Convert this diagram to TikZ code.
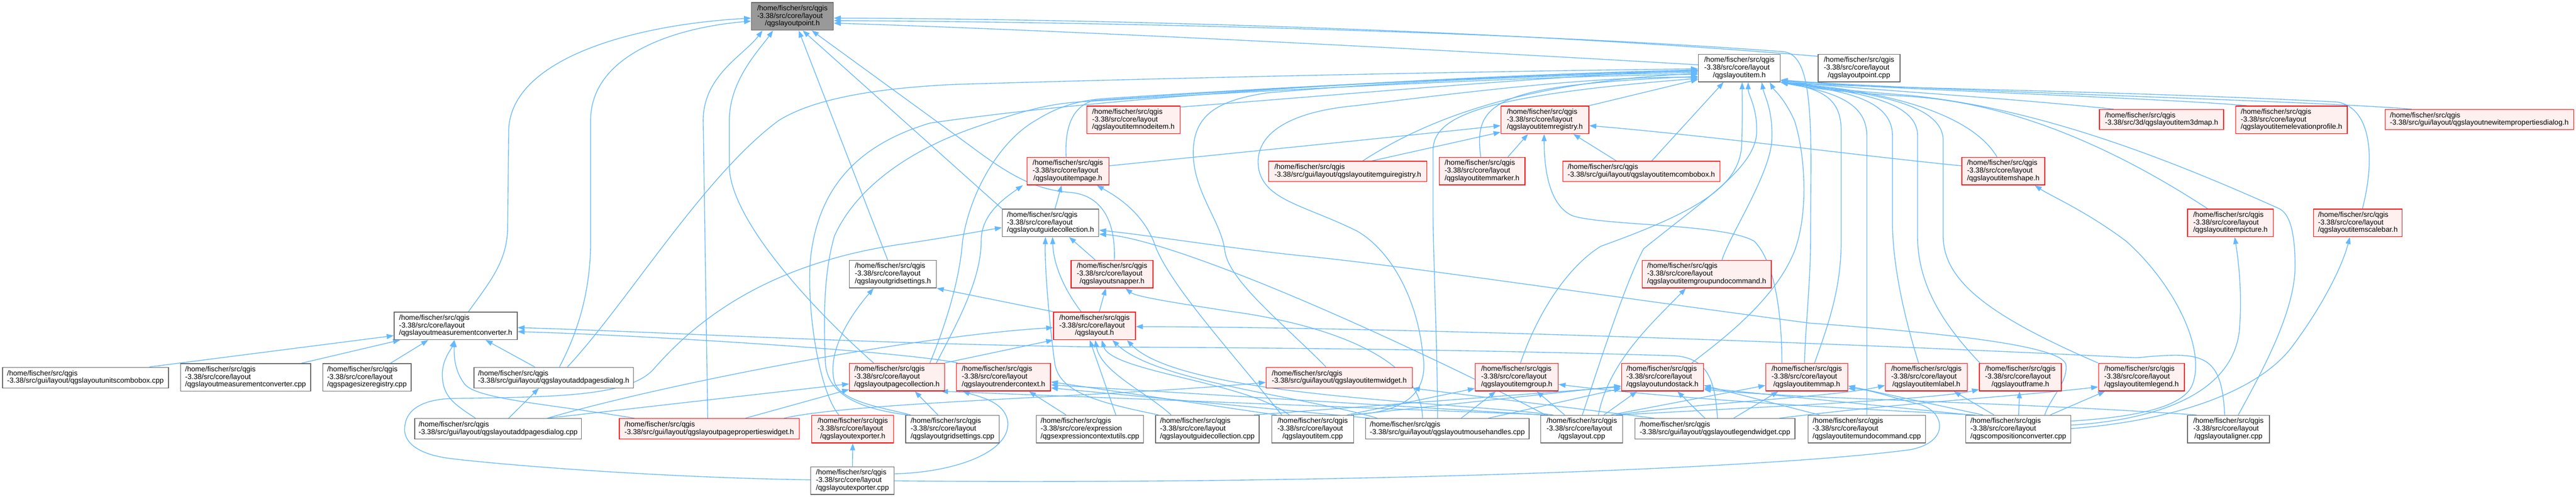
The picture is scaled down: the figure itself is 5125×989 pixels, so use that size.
\documentclass[tikz,border=0pt]{standalone}
\usepackage{fontspec}
\newfontfamily\lsans{Liberation Sans}
\usetikzlibrary{arrows.meta}
\definecolor{edgec}{HTML}{63B8FF}
\definecolor{redf}{HTML}{FFF0F0}
\definecolor{grayb}{HTML}{666666}
\definecolor{focusf}{HTML}{999999}
\pgfdeclarelayer{bg}\pgfdeclarelayer{paper}\pgfsetlayers{paper,bg,main}
\newcommand\nfont{\lsans\fontsize{14.4}{15.2}\selectfont\setbox\strutbox\hbox{\vrule height 11pt depth 4.2pt width 0pt}}
\newcommand\lblA[3]{\begin{tabular}{@{}l@{}}#1\\#2\\\multicolumn{1}{@{}c@{}}{#3}\end{tabular}}
\newcommand\lblB[2]{\begin{tabular}{@{}l@{}}#1\\\multicolumn{1}{@{}c@{}}{#2}\end{tabular}}
\newcommand\pHome{/home/fischer/src/qgis}
\newcommand\pCore{-3.38/src/core/layout}
\newcommand\pGui{-3.38/src/gui/layout/}
\newcommand\mknode[7]{\node[#1,minimum width=#5pt,minimum height=#6pt] (#2) at (#3,#4) {#7};}
\tikzset{
 nb/.style={draw=grayb, fill=white, line width=1.4pt, inner sep=0pt, font=\nfont},
 nr/.style={draw=red, fill=redf, line width=1.4pt, inner sep=0pt, font=\nfont},
 nf/.style={draw=grayb, fill=focusf, line width=1.4pt, inner sep=0pt, font=\nfont},
 dep/.style={draw=edgec, line width=1.4pt, -{Triangle[length=14pt,width=10pt]}},
}
\begin{document}
\begin{tikzpicture}[x=1pt,y=-1pt]
\useasboundingbox (0,0) rectangle (5125,989);
\begin{pgfonlayer}{paper}
\fill[white] (0,0) rectangle (5125,989);
\end{pgfonlayer}
% ---------------- nodes
\mknode{nf}{F}{1576.5}{32.5}{163}{55}{\lblA{\pHome}{\pCore}{/qgslayoutpoint.h}}
\mknode{nb}{itemh}{3460.5}{135.5}{163}{55}{\lblA{\pHome}{\pCore}{/qgslayoutitem.h}}
\mknode{nb}{pointcpp}{3698.5}{135.5}{163}{55}{\lblA{\pHome}{\pCore}{/qgslayoutpoint.cpp}}
\mknode{nr}{nodeitem}{2255}{238.5}{186}{55}{\lblA{\pHome}{\pCore}{/qgslayoutitemnodeitem.h}}
\mknode{nr}{itemregistry}{3073.5}{238.5}{175}{55}{\lblA{\pHome}{\pCore}{/qgslayoutitemregistry.h}}
\mknode{nr}{map3d}{4300.5}{238}{247}{40}{\lblB{\pHome}{-3.38/src/3d/qgslayoutitem3dmap.h}}
\mknode{nr}{elev}{4559}{238.5}{222}{55}{\lblA{\pHome}{\pCore}{/qgslayoutitemelevationprofile.h}}
\mknode{nr}{newitemprops}{4932.5}{238}{375}{40}{\lblB{\pHome}{\pGui qgslayoutnewitempropertiesdialog.h}}
\mknode{nr}{itempage}{2124.5}{340.5}{163}{55}{\lblA{\pHome}{\pCore}{/qgslayoutitempage.h}}
\mknode{nr}{guiregistry}{2681.5}{341}{315}{40}{\lblB{\pHome}{\pGui qgslayoutitemguiregistry.h}}
\mknode{nr}{marker}{2948.5}{340.5}{171}{55}{\lblA{\pHome}{\pCore}{/qgslayoutitemmarker.h}}
\mknode{nr}{combobox}{3265.5}{341}{313}{40}{\lblB{\pHome}{\pGui qgslayoutitemcombobox.h}}
\mknode{nr}{shape}{3985.5}{340.5}{165}{55}{\lblA{\pHome}{\pCore}{/qgslayoutitemshape.h}}
\mknode{nb}{guidecollh}{2090}{443.5}{192}{55}{\lblA{\pHome}{\pCore}{/qgslayoutguidecollection.h}}
\mknode{nr}{picture}{4437.5}{443.5}{171}{55}{\lblA{\pHome}{\pCore}{/qgslayoutitempicture.h}}
\mknode{nr}{scalebar}{4691}{443.5}{176}{55}{\lblA{\pHome}{\pCore}{/qgslayoutitemscalebar.h}}
\mknode{nb}{gridsettingsh}{1776.5}{545.5}{173}{55}{\lblA{\pHome}{\pCore}{/qgslayoutgridsettings.h}}
\mknode{nr}{snapper}{2212.5}{545.5}{163}{55}{\lblA{\pHome}{\pCore}{/qgslayoutsnapper.h}}
\mknode{nr}{groupundocmd}{3395.5}{545.5}{257}{55}{\lblA{\pHome}{\pCore}{/qgslayoutitemgroupundocommand.h}}
\mknode{nb}{measconvh}{906.5}{648.5}{245}{55}{\lblA{\pHome}{\pCore}{/qgslayoutmeasurementconverter.h}}
\mknode{nr}{layouth}{2177.5}{648.5}{163}{55}{\lblA{\pHome}{\pCore}{/qgslayout.h}}
\mknode{nb}{unitscombo}{170}{751.5}{330}{41}{\lblB{\pHome}{\pGui qgslayoutunitscombobox.cpp}}
\mknode{nb}{measconvcpp}{488.5}{751}{259}{55}{\lblA{\pHome}{\pCore}{/qgslayoutmeasurementconverter.cpp}}
\mknode{nb}{pagesizecpp}{730}{751}{176}{55}{\lblA{\pHome}{\pCore}{/qgspagesizeregistry.cpp}}
\mknode{nb}{addpagesh}{1101.5}{751.5}{317}{41}{\lblB{\pHome}{\pGui qgslayoutaddpagesdialog.h}}
\mknode{nr}{pagecollection}{1784.5}{750.5}{189}{55}{\lblA{\pHome}{\pCore}{/qgslayoutpagecollection.h}}
\mknode{nr}{rendercontext}{1996.5}{750.5}{187}{55}{\lblA{\pHome}{\pCore}{/qgslayoutrendercontext.h}}
\mknode{nr}{itemwidget}{2664.5}{751.5}{291}{41}{\lblB{\pHome}{\pGui qgslayoutitemwidget.h}}
\mknode{nr}{itemgroup}{3017.5}{750.5}{165}{55}{\lblA{\pHome}{\pCore}{/qgslayoutitemgroup.h}}
\mknode{nr}{undostack}{3307.5}{750.5}{163}{55}{\lblA{\pHome}{\pCore}{/qgslayoutundostack.h}}
\mknode{nr}{itemmap}{3594.5}{750.5}{163}{55}{\lblA{\pHome}{\pCore}{/qgslayoutitemmap.h}}
\mknode{nr}{itemlabel}{3832.5}{750.5}{163}{55}{\lblA{\pHome}{\pCore}{/qgslayoutitemlabel.h}}
\mknode{nr}{frame}{4019.5}{750.5}{163}{55}{\lblA{\pHome}{\pCore}{/qgslayoutframe.h}}
\mknode{nr}{legend}{4260.5}{750.5}{171}{55}{\lblA{\pHome}{\pCore}{/qgslayoutitemlegend.h}}
\mknode{nb}{addpagescpp}{991}{853.5}{332}{41}{\lblB{\pHome}{\pGui qgslayoutaddpagesdialog.cpp}}
\mknode{nr}{pageprops}{1411}{853.5}{358}{41}{\lblB{\pHome}{\pGui qgslayoutpagepropertieswidget.h}}
\mknode{nr}{exporterh}{1696.5}{854}{163}{55}{\lblA{\pHome}{\pCore}{/qgslayoutexporter.h}}
\mknode{nb}{gridsettingscpp}{1895}{854}{186}{55}{\lblA{\pHome}{\pCore}{/qgslayoutgridsettings.cpp}}
\mknode{nb}{exprctxutils}{2168.5}{854}{213}{55}{\lblA{\pHome}{-3.38/src/core/expression}{/qgsexpressioncontextutils.cpp}}
\mknode{nb}{guidecollcpp}{2402}{854}{206}{55}{\lblA{\pHome}{\pCore}{/qgslayoutguidecollection.cpp}}
\mknode{nb}{itemcpp}{2611.5}{854}{163}{55}{\lblA{\pHome}{\pCore}{/qgslayoutitem.cpp}}
\mknode{nb}{mousehandles}{2879.5}{853.5}{325}{41}{\lblB{\pHome}{\pGui qgslayoutmousehandles.cpp}}
\mknode{nb}{layoutcpp}{3147}{854}{163}{55}{\lblA{\pHome}{\pCore}{/qgslayout.cpp}}
\mknode{nb}{legendwidgetcpp}{3412}{853.5}{318}{41}{\lblB{\pHome}{\pGui qgslayoutlegendwidget.cpp}}
\mknode{nb}{undocmdcpp}{3714}{854}{234}{55}{\lblA{\pHome}{\pCore}{/qgslayoutitemundocommand.cpp}}
\mknode{nb}{compconv}{4015.5}{854}{209}{55}{\lblA{\pHome}{\pCore}{/qgscompositionconverter.cpp}}
\mknode{nb}{aligner}{4433.5}{854}{163}{55}{\lblA{\pHome}{\pCore}{/qgslayoutaligner.cpp}}
\mknode{nb}{exportercpp}{1696}{956.5}{166}{55}{\lblA{\pHome}{\pCore}{/qgslayoutexporter.cpp}}
% ---------------- edges
\begin{pgfonlayer}{bg}
% into qgslayoutpoint.h
\draw[dep] (measconvh.north -| 932,0) .. controls (975,560) and (1010,520) .. (1010,450) -- (1012,260) .. controls (1015,120) and (1250,50) .. (F.west |- 0,36);
\draw[dep] (addpagesh.north -| 1113,0) .. controls (1150,660) and (1175,580) .. (1175,480) -- (1175,240) .. controls (1175,110) and (1340,55) .. (F.west |- 0,42);
\draw[dep] (pageprops.north -| 1408,0) -- (1399,240) .. controls (1399,150) and (1480,110) .. (F.south -| 1517,0);
\draw[dep] (pagecollection.north -| 1738,0) .. controls (1600,600) and (1451,430) .. (1451,330) -- (1451,240) .. controls (1451,160) and (1510,100) .. (F.south -| 1538,0);
\draw[dep] (gridsettingsh.north -| 1766,0) -- (F.south -| 1589,0);
\draw[dep] (guidecollh.north west) -- (F.south -| 1597,0);
\draw[dep] (snapper.north -| 2217,0) .. controls (2220,430) and (2185,388) .. (2130,383) .. controls (2060,378) and (2010,350) .. (1930,290) -- (F.south -| 1615,0);
\draw[dep] (itemh.west |- 0,129) .. controls (2800,95) and (2100,60) .. (F.east |- 0,46);
\draw[dep] (pointcpp.west |- 0,112) .. controls (3000,60) and (2200,38) .. (F.east |- 0,36);
\draw[dep] (itemmap.north -| 3590,0) .. controls (3592,650) and (3602,560) .. (3602,480) -- (3603,330) .. controls (3603,170) and (3590,110) .. (3550,103) .. controls (3000,62) and (2200,44) .. (F.east |- 0,41);
% into qgslayoutmeasurementconverter.h
\draw[dep] (unitscombo.north -| 297,0) -- (measconvh.west |- 0,668);
\draw[dep] (measconvcpp.north -| 600,0) -- (measconvh.south -| 796,0);
\draw[dep] (pagesizecpp.north -| 777,0) -- (measconvh.south -| 852,0);
\draw[dep] (addpagesh.north -| 1064,0) -- (measconvh.south -| 966,0);
\draw[dep] (pageprops.north -| 1262,0) .. controls (1100,805) and (950,795) .. (925,765) .. controls (905,740) and (903,710) .. (measconvh.south -| 904,0);
\draw[dep] (addpagescpp.north -| 946,0) .. controls (905,805) and (880,790) .. (880,745) .. controls (880,715) and (898,695) .. (measconvh.south -| 904,0);
\draw[dep] (rendercontext.north -| 1905,0) .. controls (1800,700) and (1300,668) .. (measconvh.east |- 0,660);
\draw[dep] (legendwidgetcpp.north -| 3417,0) .. controls (3412,770) and (3405,712) .. (3330,708) .. controls (2800,692) and (2350,692) .. (2150,690) .. controls (1700,683) and (1300,660) .. (measconvh.east |- 0,652);
% into addpagesdialog.h / exporter.h
\draw[dep] (addpagescpp.north -| 1012,0) -- (addpagesh.south -| 1072,0);
\draw[dep] (exportercpp.north) -- (exporterh.south);
% into gridsettings.h
\draw[dep] (layouth.north west) -- (gridsettingsh.south east);
\draw[dep] (gridsettingscpp.north -| 1812,0) .. controls (1760,812) and (1672,800) .. (1660,760) .. controls (1645,700) and (1690,630) .. (gridsettingsh.south -| 1738,0);
% into pagecollection.h
\draw[dep] (pageprops.north -| 1483,0) -- (pagecollection.west |- 0,775);
\draw[dep] (addpagescpp.north -| 1089,0) -- (pagecollection.west |- 0,764);
\draw[dep] (gridsettingscpp.north -| 1866,0) -- (pagecollection.south -| 1820,0);
\draw[dep] (layoutcpp.north -| 3080,0) -- (pagecollection.south -| 1872,0);
% into guidecollection.h
\draw[dep] (exportercpp.west |- 0,955) .. controls (1300,950) and (1000,925) .. (900,913) .. controls (830,905) and (805,880) .. (805,855) .. controls (805,815) and (840,795) .. (900,793) .. controls (1100,790) and (1250,790) .. (1300,735) .. controls (1400,620) and (1550,520) .. (1800,485) .. controls (1900,470) and (1950,460) .. (guidecollh.west |- 0,453);
\draw[dep] (layouth.north -| 2151,0) .. controls (2120,580) and (2096,530) .. (guidecollh.south -| 2094,0);
\draw[dep] (snapper.north -| 2179,0) -- (guidecollh.south -| 2127,0);
\draw[dep] (guidecollcpp.north -| 2305,0) .. controls (2180,800) and (2105,780) .. (2098,720) .. controls (2090,660) and (2078,540) .. (guidecollh.south -| 2080,0);
\draw[dep] (compconv.north -| 4068,0) .. controls (4080,790) and (4115,760) .. (4110,725) .. controls (4100,690) and (3900,665) .. (3600,643) .. controls (3200,590) and (2800,530) .. (2600,510) .. controls (2450,495) and (2300,470) .. (guidecollh.east |- 0,458);
\draw[dep] (layoutcpp.north -| 3075,0) .. controls (2950,760) and (2700,640) .. (2500,560) .. controls (2350,500) and (2250,470) .. (guidecollh.east |- 0,466);
% into snapper.h
\draw[dep] (layouth.north -| 2187,0) -- (snapper.south -| 2200,0);
\draw[dep] (mousehandles.north -| 2830,0) .. controls (2830,700) and (2600,640) .. (2450,620) .. controls (2320,600) and (2260,590) .. (snapper.south -| 2239,0);
% into itempage.h
\draw[dep] (guidecollh.north -| 2099,0) -- (itempage.south -| 2112,0);
\draw[dep] (pagecollection.north -| 1863,0) .. controls (1900,650) and (1952,560) .. (1952,480) .. controls (1952,430) and (1990,400) .. (itempage.south -| 2035,0);
\draw[dep] (itemcpp.north -| 2550,0) .. controls (2450,700) and (2320,560) .. (2295,480) .. controls (2270,420) and (2220,390) .. (itempage.south -| 2182,0);
% into layout.h
\draw[dep] (pagecollection.north east) -- (layouth.south west);
\draw[dep] (addpagescpp.north -| 1089,0) .. controls (1300,770) and (1800,670) .. (layouth.west |- 0,652);
\draw[dep] (guidecollcpp.north -| 2330,0) .. controls (2280,780) and (2190,740) .. (layouth.south -| 2179,0);
\draw[dep] (itemcpp.north -| 2565,0) .. controls (2480,760) and (2210,740) .. (layouth.south -| 2192,0);
\draw[dep] (mousehandles.north -| 2740,0) .. controls (2600,790) and (2300,760) .. (layouth.south -| 2213,0);
\draw[dep] (layoutcpp.north -| 3090,0) .. controls (2900,800) and (2350,790) .. (layouth.south -| 2242,0);
\draw[dep] (aligner.north -| 4426,0) .. controls (4420,700) and (4380,700) .. (4250,712) .. controls (3600,680) and (2800,652) .. (layouth.east |- 0,650);
\draw[dep] (exprctxutils.north -| 2220,0) -- (layouth.south -| 2168,0);
% into rendercontext.h
\draw[dep] (exprctxutils.north -| 2121,0) -- (rendercontext.south -| 2047,0);
\draw[dep] (exportercpp.east |- 0,943) .. controls (1900,940) and (2010,900) .. (2005,840) .. controls (2000,800) and (1950,790) .. (rendercontext.south -| 1915,0);
\draw[dep] (itemcpp.north -| 2540,0) -- (rendercontext.east |- 0,760);
\draw[dep] (layoutcpp.north -| 3070,0) -- (rendercontext.east |- 0,766);
\draw[dep] (mousehandles.north -| 2725,0) -- (rendercontext.east |- 0,772);
% into itemwidget.h
\draw[dep] (pageprops.north -| 1560,0) .. controls (1700,800) and (2200,790) .. (itemwidget.west |- 0,761);
\draw[dep] (legendwidgetcpp.north -| 3291,0) -- (itemwidget.south east);
% into itemgroup.h
\draw[dep] (mousehandles.north -| 2907,0) -- (itemgroup.south -| 2976,0);
\draw[dep] (layoutcpp.north -| 3113,0) -- (itemgroup.south -| 3057,0);
\draw[dep] (itemcpp.north -| 2680,0) -- (itemgroup.west |- 0,773);
\draw[dep] (compconv.north -| 3930,0) .. controls (3600,810) and (3300,790) .. (itemgroup.east |- 0,765);
% into undostack.h
\draw[dep] (layoutcpp.north -| 3191,0) -- (undostack.south -| 3257,0);
\draw[dep] (legendwidgetcpp.north -| 3392,0) -- (undostack.south -| 3337,0);
\draw[dep] (mousehandles.north -| 2961,0) -- (undostack.west |- 0,773);
\draw[dep] (itemcpp.north -| 2690,0) -- (undostack.west |- 0,768);
\draw[dep] (guidecollcpp.north -| 2495,0) -- (undostack.west |- 0,770);
\draw[dep] (undocmdcpp.north -| 3620,0) -- (undostack.east |- 0,767);
\draw[dep] (aligner.north -| 4370,0) .. controls (4000,800) and (3600,795) .. (undostack.east |- 0,775);
\draw[dep] (compconv.north -| 3920,0) -- (undostack.east |- 0,772);
% into itemmap.h
\draw[dep] (legendwidgetcpp.north -| 3449,0) -- (itemmap.south -| 3538,0);
\draw[dep] (compconv.north -| 3945,0) -- (itemmap.east |- 0,768);
\draw[dep] (layoutcpp.north -| 3205,0) -- (itemmap.west |- 0,767);
\draw[dep] (exportercpp.east |- 0,957) .. controls (2600,965) and (3500,935) .. (3800,895) .. controls (3880,880) and (3870,820) .. (3820,805) .. controls (3760,790) and (3720,775) .. (itemmap.east |- 0,773);
% into itemlabel.h, frame.h, legend.h, groupundocommand.h
\draw[dep] (compconv.north -| 3967,0) -- (itemlabel.south -| 3887,0);
\draw[dep] (layoutcpp.north -| 3215,0) .. controls (3400,800) and (3650,790) .. (itemlabel.west |- 0,767);
\draw[dep] (compconv.north -| 4016,0) -- (frame.south -| 4018,0);
\draw[dep] (layoutcpp.north -| 3222,0) .. controls (3500,810) and (3850,795) .. (frame.west |- 0,775);
\draw[dep] (compconv.north -| 4079,0) -- (legend.south -| 4188,0);
\draw[dep] (legendwidgetcpp.north -| 3540,0) .. controls (3800,800) and (4000,790) .. (legend.west |- 0,770);
\draw[dep] (layoutcpp.north -| 3180,0) .. controls (3200,720) and (3290,640) .. (groupundocmd.south -| 3354,0);
% into itemregistry.h
\draw[dep] (itempage.east |- 0,330) .. controls (2500,300) and (2800,270) .. (itemregistry.west |- 0,250);
\draw[dep] (guiregistry.north -| 2729,0) -- (itemregistry.west |- 0,263);
\draw[dep] (marker.north -| 3000,0) -- (itemregistry.south -| 3040,0);
\draw[dep] (combobox.north -| 3216,0) -- (itemregistry.south -| 3130,0);
\draw[dep] (shape.west |- 0,330) .. controls (3700,310) and (3400,270) .. (itemregistry.east |- 0,250);
\draw[dep] (itemmap.north -| 3545,0) .. controls (3545,620) and (3530,520) .. (3490,480) .. controls (3430,445) and (3200,450) .. (3130,430) .. controls (3080,410) and (3072,330) .. (itemregistry.south -| 3072,0);
% into qgslayoutitem.h
\draw[dep] (nodeitem.east |- 0,213) .. controls (2650,190) and (3100,150) .. (itemh.west |- 0,140);
\draw[dep] (itemregistry.north east) -- (itemh.west |- 0,158);
\draw[dep] (map3d.north -| 4205,0) .. controls (4000,195) and (3700,178) .. (itemh.east |- 0,161);
\draw[dep] (elev.north -| 4470,0) .. controls (4300,195) and (3750,178) .. (itemh.east |- 0,160);
\draw[dep] (newitemprops.north -| 4798,0) .. controls (4600,200) and (3800,180) .. (itemh.east |- 0,159);
\draw[dep] (itempage.north -| 2121,0) .. controls (2118,250) and (2135,212) .. (2175,200) .. controls (2600,170) and (3100,146) .. (itemh.west |- 0,142);
\draw[dep] (guiregistry.north -| 2711,0) .. controls (2820,250) and (3000,165) .. (itemh.west |- 0,146);
\draw[dep] (marker.north -| 2946,0) .. controls (2930,200) and (2980,170) .. (itemh.west |- 0,152);
\draw[dep] (combobox.north -| 3286,0) -- (itemh.south -| 3429,0);
\draw[dep] (shape.north -| 3973,0) .. controls (3930,240) and (3800,185) .. (itemh.south east);
\draw[dep] (picture.north -| 4392,0) .. controls (4200,290) and (4000,205) .. (3800,192) .. controls (3650,183) and (3580,172) .. (itemh.south east);
\draw[dep] (scalebar.north -| 4700,0) .. controls (4725,320) and (4720,215) .. (4650,203) .. controls (4200,180) and (3700,175) .. (itemh.south east);
\draw[dep] (itemgroup.north -| 3025,0) .. controls (3060,620) and (3120,530) .. (3185,490) .. controls (3380,420) and (3460,370) .. (3465,290) .. controls (3467,230) and (3466,200) .. (itemh.south -| 3466,0);
\draw[dep] (layoutcpp.north -| 3148,0) .. controls (3190,700) and (3235,560) .. (3270,495) .. controls (3400,390) and (3495,330) .. (3495,260) .. controls (3495,210) and (3478,190) .. (itemh.south -| 3478,0);
\draw[dep] (groupundocmd.north -| 3426,0) .. controls (3440,470) and (3520,350) .. (3525,280) .. controls (3528,220) and (3510,190) .. (itemh.south -| 3505,0);
\draw[dep] (undostack.north -| 3366,0) .. controls (3420,680) and (3530,600) .. (3570,500) .. controls (3600,420) and (3590,300) .. (3570,240) .. controls (3550,195) and (3530,180) .. (itemh.south -| 3521,0);
\draw[dep] (itemmap.north -| 3610,0) .. controls (3640,640) and (3663,570) .. (3663,480) -- (3663,260) .. controls (3663,200) and (3630,178) .. (itemh.south east);
\draw[dep] (undocmdcpp.north -| 3714,0) -- (3714,270) .. controls (3714,200) and (3640,182) .. (itemh.south east);
\draw[dep] (itemlabel.north -| 3817,0) .. controls (3785,620) and (3765,520) .. (3765,440) -- (3765,270) .. controls (3765,195) and (3660,180) .. (itemh.south east);
\draw[dep] (frame.north -| 3939,0) .. controls (3870,650) and (3815,570) .. (3815,470) -- (3815,270) .. controls (3815,200) and (3690,182) .. (itemh.south east);
\draw[dep] (legend.north -| 4174,0) .. controls (3960,630) and (3866,560) .. (3866,470) -- (3866,280) .. controls (3866,205) and (3720,184) .. (itemh.south east);
\draw[dep] (aligner.north -| 4453,0) .. controls (4500,740) and (4566,620) .. (4566,530) .. controls (4566,460) and (4555,425) .. (4534,415) .. controls (4300,310) and (4050,215) .. (3800,190) .. controls (3650,178) and (3580,170) .. (itemh.south east);
\draw[dep] (addpagesh.north -| 1129,0) .. controls (1250,600) and (1400,350) .. (1549,240) .. controls (1620,195) and (1750,175) .. (1900,168) .. controls (2500,150) and (3100,140) .. (itemh.west |- 0,137);
\draw[dep] (exporterh.north -| 1669,0) .. controls (1630,780) and (1605,620) .. (1612,520) .. controls (1625,380) and (1700,290) .. (1850,245) .. controls (2300,180) and (3000,148) .. (itemh.west |- 0,139);
\draw[dep] (pagecollection.north -| 1850,0) .. controls (1880,650) and (1909,560) .. (1915,480) .. controls (1930,380) and (1990,280) .. (2060,240) .. controls (2100,215) and (2140,200) .. (2200,196) .. controls (2600,170) and (3100,146) .. (itemh.west |- 0,141);
\draw[dep] (gridsettingscpp.north -| 1806,0) .. controls (1720,815) and (1645,790) .. (1642,720) .. controls (1638,620) and (1640,540) .. (1660,470) .. controls (1700,380) and (1800,300) .. (1950,250) .. controls (2050,215) and (2100,205) .. (2160,202) .. controls (2600,175) and (3100,150) .. (itemh.west |- 0,148);
\draw[dep] (itemcpp.north -| 2688,0) .. controls (2800,820) and (2845,780) .. (2830,700) .. controls (2820,600) and (2770,500) .. (2700,460) .. controls (2600,410) and (2520,400) .. (2505,340) .. controls (2490,270) and (2560,222) .. (2700,210) .. controls (3000,172) and (3200,152) .. (itemh.west |- 0,154);
\draw[dep] (mousehandles.north -| 2860,0) .. controls (2860,700) and (2851,500) .. (2851,420) -- (2851,300) .. controls (2851,230) and (2950,190) .. (itemh.west |- 0,156);
\draw[dep] (itemwidget.north -| 2638,0) .. controls (2560,650) and (2445,560) .. (2437,500) .. controls (2430,440) and (2372,380) .. (2374,300) .. controls (2376,230) and (2420,200) .. (2520,185) .. controls (2800,160) and (3100,150) .. (itemh.west |- 0,144);
% compositionconverter into shape / picture / scalebar
\draw[dep] (compconv.east |- 0,838) .. controls (4250,830) and (4345,810) .. (4362,765) .. controls (4390,690) and (4320,560) .. (4230,480) .. controls (4150,420) and (4080,390) .. (shape.south -| 4048,0);
\draw[dep] (compconv.east |- 0,846) .. controls (4300,835) and (4440,780) .. (4455,660) .. controls (4462,580) and (4452,510) .. (picture.south -| 4446,0);
\draw[dep] (compconv.east |- 0,853) .. controls (4350,835) and (4500,770) .. (4560,690) .. controls (4620,610) and (4660,530) .. (scalebar.south -| 4675,0);
\end{pgfonlayer}
\end{tikzpicture}
\end{document}
